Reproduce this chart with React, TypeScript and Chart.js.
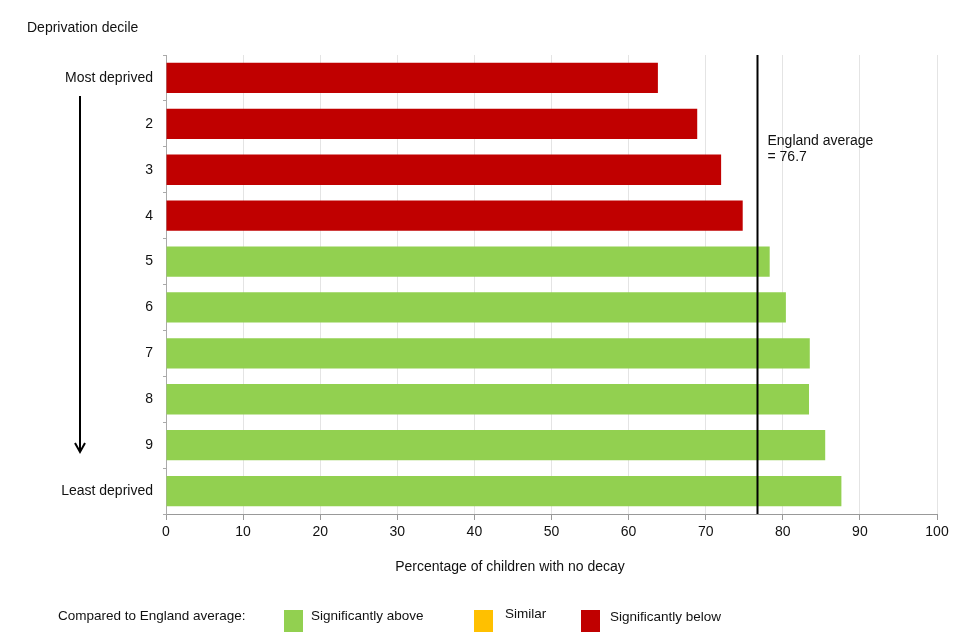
import React, { useEffect, useRef } from "react";
import { Chart, registerables } from "chart.js";

Chart.register(...registerables);

const categories = ["Most deprived", "2", "3", "4", "5", "6", "7", "8", "9", "Least deprived"];
const values = [63.8, 68.9, 72.0, 74.8, 78.3, 80.4, 83.5, 83.4, 85.5, 87.6];
const comparison = ["below", "below", "below", "below", "above", "above", "above", "above", "above", "above"];
const englandAverage = 76.7;
const legendItems = [
  { label: "Significantly above", color: "#92d050" },
  { label: "Similar", color: "#ffc000" },
  { label: "Significantly below", color: "#c00000" },
];
const colorFor: Record<string, string> = { above: "#92d050", similar: "#ffc000", below: "#c00000" };

const FONT = "'Liberation Sans', Arial, sans-serif";

export default function App() {
  const ref = useRef<HTMLCanvasElement | null>(null);

  useEffect(() => {
    if (!ref.current) return;
    const overlay = {
      id: "overlay",
      afterDatasetsDraw(chart: any) {
        const ctx = chart.ctx;
        const x = chart.scales.x;
        const area = chart.chartArea;
        const ax = Math.round(x.getPixelForValue(englandAverage)) + 0.5;
        ctx.save();
        ctx.strokeStyle = "#000";
        ctx.lineWidth = 2;
        ctx.beginPath();
        ctx.moveTo(ax, area.top);
        ctx.lineTo(ax, area.bottom);
        ctx.stroke();
        ctx.fillStyle = "#111";
        ctx.font = `14px ${FONT}`;
        ctx.textBaseline = "middle";
        ctx.textAlign = "left";
        ctx.fillText("England average", ax + 10, 141);
        ctx.fillText("= " + englandAverage, ax + 10, 157);
        ctx.restore();
      },
      afterDraw(chart: any) {
        const ctx = chart.ctx;
        ctx.save();
        ctx.fillStyle = "#111";
        ctx.textBaseline = "middle";
        ctx.font = `14px ${FONT}`;
        ctx.textAlign = "left";
        ctx.fillText("Deprivation decile", 27, 28);
        ctx.textAlign = "center";
        ctx.fillText("Percentage of children with no decay", 510, 567);
        // arrow
        ctx.strokeStyle = "#000";
        ctx.lineWidth = 2;
        ctx.beginPath();
        ctx.moveTo(80, 96);
        ctx.lineTo(80, 451);
        ctx.stroke();
        ctx.beginPath();
        ctx.moveTo(75, 443);
        ctx.lineTo(80, 452);
        ctx.lineTo(85, 443);
        ctx.stroke();
        // legend
        ctx.font = `13.5px ${FONT}`;
        ctx.textAlign = "left";
        ctx.fillText("Compared to England average:", 58, 616);
        const boxes = [284, 474, 581];
        const texts = [311, 505, 610];
        const ty = [616, 614, 617];
        legendItems.forEach((it, i) => {
          ctx.fillStyle = it.color;
          ctx.fillRect(boxes[i], 610, 19, 22);
          ctx.fillStyle = "#111";
          ctx.fillText(it.label, texts[i], ty[i]);
        });
        ctx.restore();
      },
    };

    const chart = new Chart(ref.current, {
      type: "bar",
      data: {
        labels: categories,
        datasets: [
          {
            data: values,
            backgroundColor: comparison.map((c) => colorFor[c]),
            borderWidth: 0,
            barPercentage: 0.66,
            categoryPercentage: 1,
          },
        ],
      },
      options: {
        indexAxis: "y",
        animation: false,
        responsive: false,
        maintainAspectRatio: false,
        layout: { padding: { left: 0, right: 23, top: 55, bottom: 0 } },
        plugins: { legend: { display: false }, tooltip: { enabled: false } },
        scales: {
          x: {
            min: 0,
            max: 100,
            ticks: { stepSize: 10, color: "#111", font: { family: FONT, size: 14 }, padding: 4 },
            grid: { color: "#e4e4e4", tickColor: "#999", tickLength: 6, lineWidth: 1 },
            border: { color: "#999", width: 1 },
            afterFit: (s: any) => {
              s.height = 126;
            },
          },
          y: {
            ticks: { color: "#111", font: { family: FONT, size: 14 }, padding: 10 },
            grid: { display: true, drawOnChartArea: false, offset: true, tickLength: 3, tickColor: "#aaa" },
            border: { color: "#aaa", width: 1 },
            afterFit: (s: any) => {
              s.width = 166;
            },
          },
        },
      },
      plugins: [overlay],
    });
    return () => chart.destroy();
  }, []);

  return (
    <div style={{ position: "fixed", left: 0, top: 0, width: 960, height: 640, background: "#fff" }}>
      <canvas ref={ref} width={960} height={640} style={{ width: 960, height: 640 }} />
    </div>
  );
}
